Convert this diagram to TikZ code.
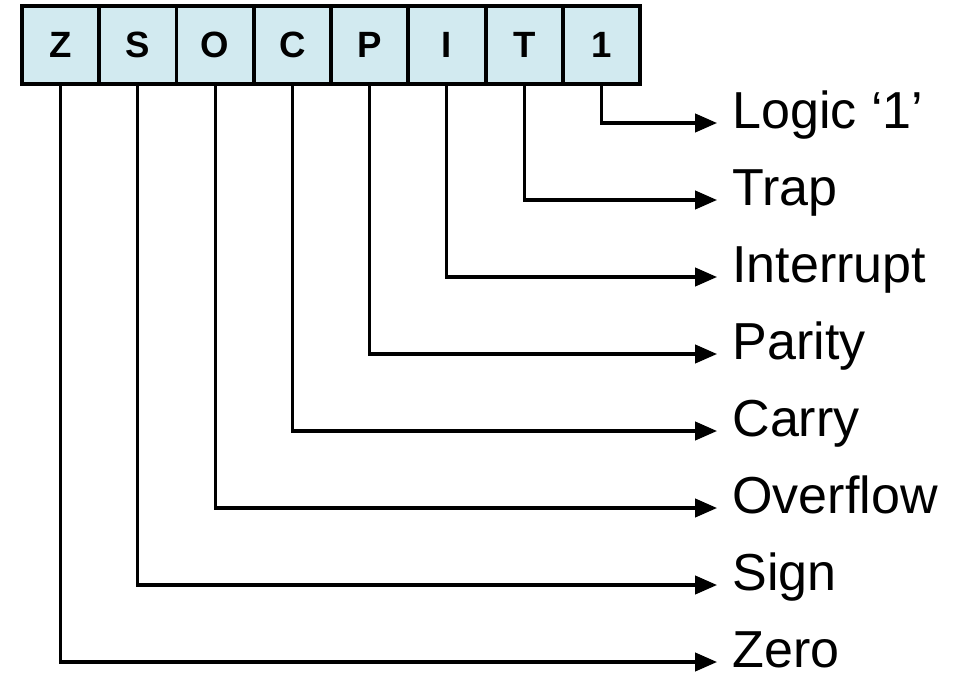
\documentclass[tikz,border=0pt]{standalone}
\usepackage{fontspec}
\setmainfont{Liberation Sans}
\usepackage{tikz}
\usetikzlibrary{positioning}
\usetikzlibrary{arrows.meta}
\definecolor{flagblue}{RGB}{210,234,240}
\tikzset{
    flagbox/.style={
        draw=black,
        fill=flagblue,
        line width=2.8pt,
        outer sep=0pt,
        minimum width=1.931cm,
        minimum height=1.95cm,
        inner sep=0pt,
        font=\fontsize{26pt}{28pt}\selectfont\bfseries
    },
    % labels on the right
    flaglabel/.style={
        anchor=west,
        inner xsep=0.38cm,
        inner ysep=0pt,
        text height=0.716em,
        text depth=0pt,
        font=\fontsize{37pt}{40pt}\selectfont
    },
    flagarrow/.style={
        line width=2.2pt,
        black,
        -{Triangle[length=0.55cm, width=0.46cm]}
    }
}

\begin{document}
\begin{tikzpicture}[x=0.025cm, y=-0.025cm]
        \useasboundingbox (0,0) rectangle (965,684);

        \node[flagbox] (z) at (60.6,45) {Z};
        \node[flagbox, right=0pt of z] (s) {S};
        \node[flagbox, right=0pt of s] (o) {O};
        \node[flagbox, right=0pt of o] (c) {C};
        \node[flagbox, right=0pt of c] (p) {P};
        \node[flagbox, right=0pt of p] (i) {I};
        \node[flagbox, right=0pt of i] (t) {T};
        \node[flagbox, right=0pt of t] (one) {1};

        \node[flaglabel] (logic) at (717,123) {Logic `1'};
        \node[flaglabel] (trap) at (717,200) {Trap};
        \node[flaglabel] (interrupt) at (717,277) {Interrupt};
        \node[flaglabel] (parity) at (717,354) {Parity};
        \node[flaglabel] (carry) at (717,431) {Carry};
        \node[flaglabel] (overflow) at (717,508) {Overflow};
        \node[flaglabel] (sign) at (717,585) {Sign};
        \node[flaglabel] (zero) at (717,662) {Zero};

        \draw[flagarrow] (one.south) |- (logic.west);
        \draw[flagarrow] (t.south) |- (trap.west);
        \draw[flagarrow] (i.south) |- (interrupt.west);
        \draw[flagarrow] (p.south) |- (parity.west);
        \draw[flagarrow] (c.south) |- (carry.west);
        \draw[flagarrow] (o.south) |- (overflow.west);
        \draw[flagarrow] (s.south) |- (sign.west);
        \draw[flagarrow] (z.south) |- (zero.west);
\end{tikzpicture}
\end{document}
